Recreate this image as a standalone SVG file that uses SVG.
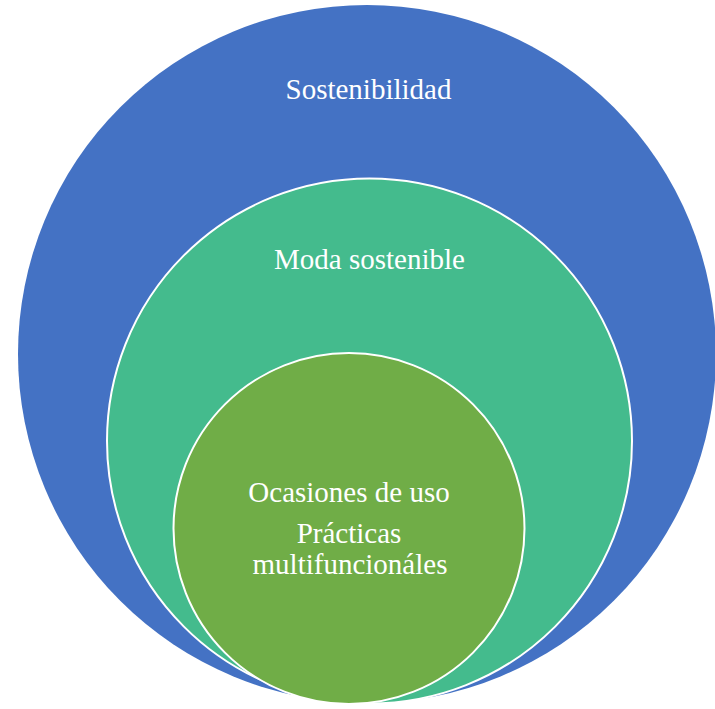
<svg xmlns="http://www.w3.org/2000/svg" width="715" height="709" viewBox="0 0 715 709">
<style>
.c{stroke:#fff;stroke-width:2}
.t{font-family:"Liberation Serif","Times New Roman",serif;font-size:29px;fill:#fff;text-anchor:middle}
</style>
<rect width="715" height="709" fill="#fff"/>
<g id="sostenibilidad">
<circle cx="367" cy="354" r="349" fill="#4472C4"/>
<text class="t" x="368.5" y="99">Sostenibilidad</text>
</g>
<g id="moda-sostenible">
<circle class="c" cx="369.5" cy="441" r="262.5" fill="#44BB8D"/>
<text class="t" x="369.5" y="269">Moda sostenible</text>
</g>
<g id="practicas">
<circle class="c" cx="349" cy="528.5" r="175.5" fill="#70AD47"/>
<text class="t" x="349" y="502">Ocasiones de uso</text>
<text class="t" x="349" y="543">Prácticas</text>
<text class="t" x="350" y="574">multifuncionáles</text>
</g>
<g id="connectors"/>
</svg>
